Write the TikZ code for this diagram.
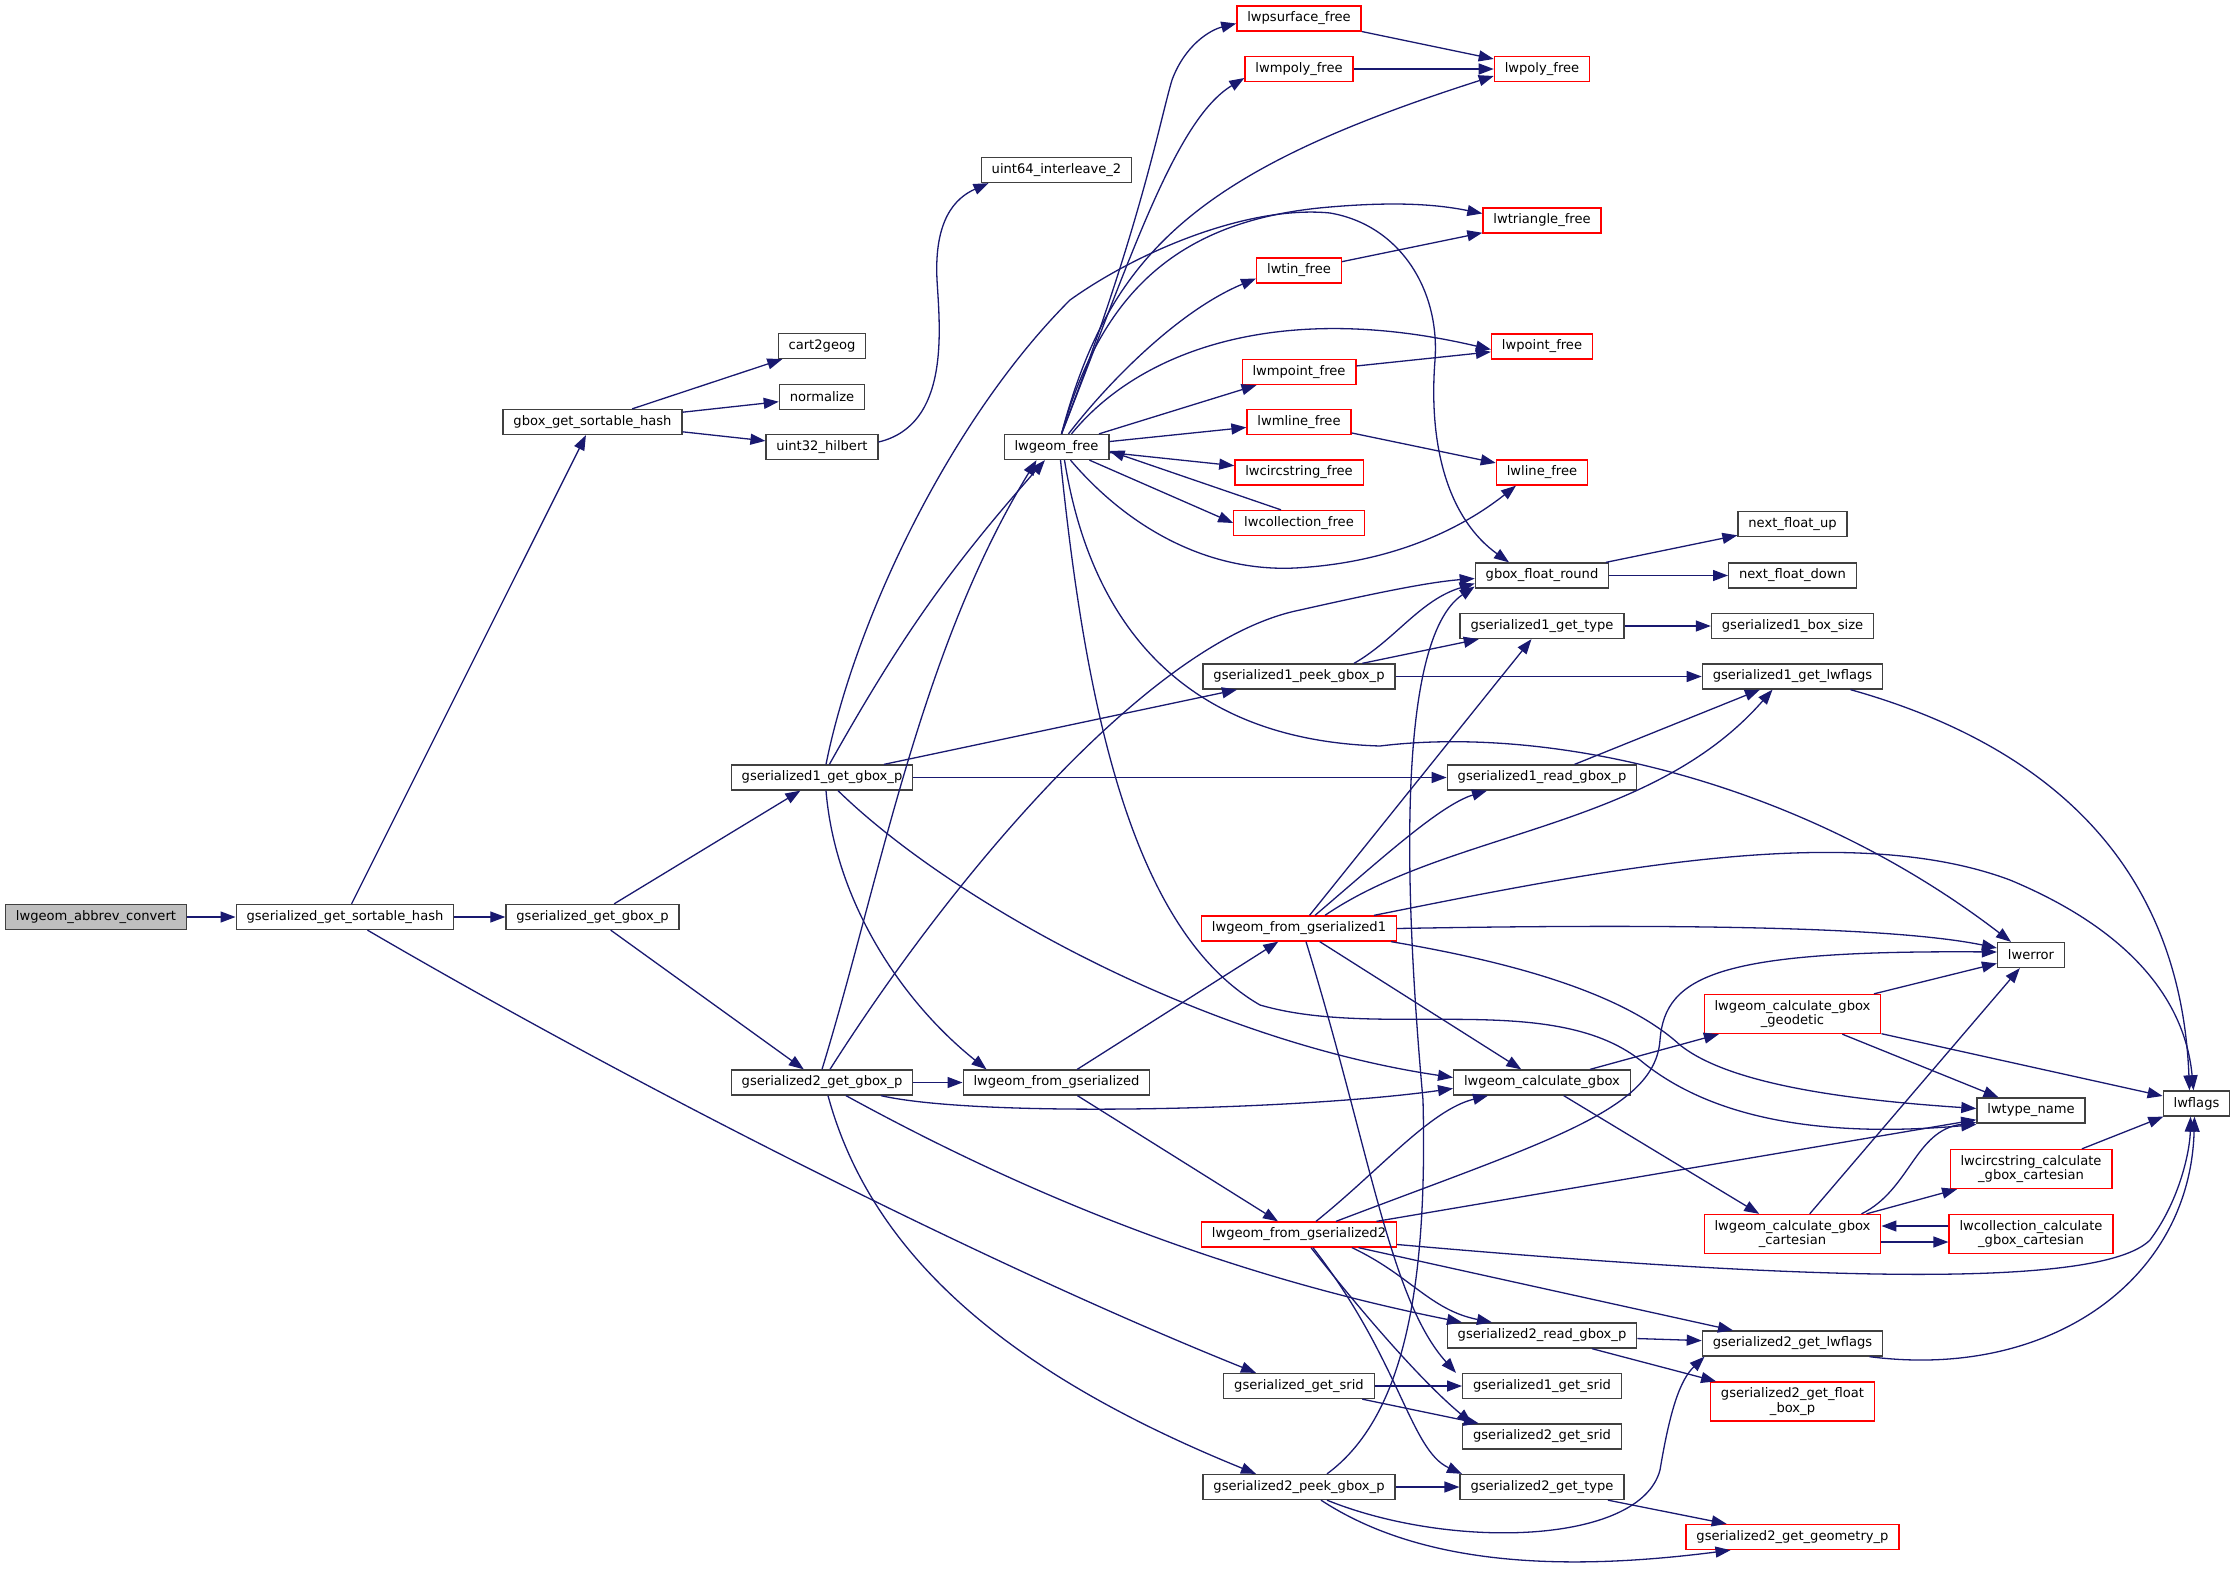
\documentclass[tikz,border=0pt]{standalone}
\usepackage{fontspec}
\setmainfont{DejaVu Sans}
\usepackage{tikz}
\usetikzlibrary{arrows.meta}
\usetikzlibrary{positioning}
\definecolor{edgeblue}{HTML}{191970}
\begin{document}
\begin{tikzpicture}[x = 1pt, y = -1pt, node distance = 50pt, on grid,
	fnbox/.style = {rectangle, draw = black!75, fill = white, line width = 1.3pt, inner xsep = 10.4pt, inner ysep = 0pt, minimum height = 25pt, align = center, font = \fontsize{13.1}{14.7}\selectfont},
	fnred/.style = {fnbox, draw = red},
	fnroot/.style = {fnbox, fill = black!25},
	twoline/.style = {minimum height = 39pt},
	callarrow/.style = {draw = edgeblue, line width = 1.3pt, -{Triangle[length = 15pt, width = 11pt]}}]
	\useasboundingbox (0,0) rectangle (2236,1574);
	\node[fnroot] (abbrev) at (96,917) {lwgeom\_abbrev\_convert};
	\node[fnbox] (sorthash) [right = 249pt of abbrev] {gserialized\_get\_sortable\_hash};
	\node[fnbox] (ggbox) [right = 247.5pt of sorthash] {gserialized\_get\_gbox\_p};
	\node[fnbox] (gboxhash) [above = 495pt of ggbox] {gbox\_get\_sortable\_hash};
	\node[fnbox] (hilbert) [right = 229.5pt of gboxhash, yshift = -25pt] {uint32\_hilbert};
	\node[fnbox] (normalize) [above = 50pt of hilbert] {normalize};
	\node[fnbox] (cart2geog) [above = 51pt of normalize] {cart2geog};
	\node[fnbox] (g1gbox) [above right = 139.5pt and 229.5pt of ggbox] {gserialized1\_get\_gbox\_p};
	\node[fnbox] (g2gbox) [below = 305pt of g1gbox] {gserialized2\_get\_gbox\_p};
	\node[fnbox] (fromser) [right = 234.5pt of g2gbox] {lwgeom\_from\_gserialized};
	\node[fnbox] (lwfree) [above = 635.5pt of fromser] {lwgeom\_free};
	\node[fnbox] (interleave) [above = 277pt of lwfree] {uint64\_interleave\_2};
	\node[fnred] (from1) [above right = 154pt and 242.5pt of fromser] {lwgeom\_from\_gserialized1};
	\node[fnred] (from2) [below = 306pt of from1] {lwgeom\_from\_gserialized2};
	\node[fnbox] (getsrid) [below = 151.5pt of from2] {gserialized\_get\_srid};
	\node[fnbox] (g2peek) [below = 101pt of getsrid] {gserialized2\_peek\_gbox\_p};
	\node[fnbox] (g1peek) [above = 252pt of from1] {gserialized1\_peek\_gbox\_p};
	\node[fnred] (collfree) [above = 153.5pt of g1peek] {lwcollection\_free};
	\node[fnred] (circfree) [above = 50.5pt of collfree] {lwcircstring\_free};
	\node[fnred] (mline) [above = 50.5pt of circfree] {lwmline\_free};
	\node[fnred] (mpoint) [above = 50pt of mline] {lwmpoint\_free};
	\node[fnred] (tin) [above = 101.5pt of mpoint] {lwtin\_free};
	\node[fnred] (mpoly) [above = 201.5pt of tin] {lwmpoly\_free};
	\node[fnred] (psurf) [above = 50.5pt of mpoly] {lwpsurface\_free};
	\node[fnred] (polyfree) [right = 243pt of mpoly] {lwpoly\_free};
	\node[fnred] (trifree) [below = 151.5pt of polyfree] {lwtriangle\_free};
	\node[fnred] (pointfree) [below = 126pt of trifree] {lwpoint\_free};
	\node[fnred] (linefree) [right = 243pt of circfree] {lwline\_free};
	\node[fnbox] (fround) [below = 103pt of linefree] {gbox\_float\_round};
	\node[fnbox] (g1type) [below = 50.5pt of fround] {gserialized1\_get\_type};
	\node[fnbox] (g1read) [below = 151.5pt of g1type] {gserialized1\_read\_gbox\_p};
	\node[fnbox] (calcgbox) [below = 305pt of g1read] {lwgeom\_calculate\_gbox};
	\node[fnbox] (g2read) [below = 253pt of calcgbox] {gserialized2\_read\_gbox\_p};
	\node[fnbox] (g1srid) [right = 243pt of getsrid] {gserialized1\_get\_srid};
	\node[fnbox] (g2srid) [below = 50.5pt of g1srid] {gserialized2\_get\_srid};
	\node[fnbox] (g2type) [right = 243pt of g2peek] {gserialized2\_get\_type};
	\node[fnbox] (fdown) [right = 250.5pt of fround] {next\_float\_down};
	\node[fnbox] (fup) [above = 51.5pt of fdown] {next\_float\_up};
	\node[fnbox] (g1boxsize) [right = 250.5pt of g1type] {gserialized1\_box\_size};
	\node[fnbox] (g1lwflags) [below = 50.5pt of g1boxsize] {gserialized1\_get\_lwflags};
	\node[fnred, twoline] (geodetic) [below = 337.5pt of g1lwflags] {lwgeom\_calculate\_gbox\\\_geodetic};
	\node[fnred, twoline] (cartesian) [below = 220pt of geodetic] {lwgeom\_calculate\_gbox\\\_cartesian};
	\node[fnbox] (g2lwflags) [below = 109.5pt of cartesian] {gserialized2\_get\_lwflags};
	\node[fnred, twoline] (floatbox) [below = 58pt of g2lwflags] {gserialized2\_get\_float\\\_box\_p};
	\node[fnred] (geomp) [right = 250.5pt of g2type, yshift = -50pt] {gserialized2\_get\_geometry\_p};
	\node[fnbox] (lwerror) [above right = 59pt and 238.5pt of geodetic] {lwerror};
	\node[fnbox] (lwtypename) [below = 155.5pt of lwerror] {lwtype\_name};
	\node[fnred, twoline] (circcalc) [below = 58.5pt of lwtypename] {lwcircstring\_calculate\\\_gbox\_cartesian};
	\node[fnred, twoline] (collcalc) [right = 238.5pt of cartesian] {lwcollection\_calculate\\\_gbox\_cartesian};
	\node[fnbox] (lwflags) [right = 165.5pt of lwtypename, yshift = 7pt] {lwflags};
	\draw[callarrow] (abbrev) -- (sorthash);
	\draw[callarrow] (sorthash) -- (ggbox);
	\draw[callarrow] (sorthash) -- (gboxhash);
	\draw[callarrow] (sorthash) .. controls (650,1095) and (1000,1270) .. ([xshift=-43pt]getsrid.north);
	\draw[callarrow] (gboxhash) -- (cart2geog);
	\draw[callarrow] (gboxhash) -- (normalize);
	\draw[callarrow] (gboxhash) -- (hilbert);
	\draw[callarrow] ([yshift=5pt]hilbert.east) .. controls (950,425) and (940,330) .. (937,280) .. controls (934,220) and (955,198) .. ([xshift=-68pt]interleave.south);
	\draw[callarrow] (ggbox) -- (g1gbox);
	\draw[callarrow] (ggbox) -- (g2gbox);
	\draw[callarrow] (g1gbox) to[bend left = 6] (lwfree);
	\draw[callarrow] ([xshift=4pt]g1gbox.north) .. controls (855,620) and (950,420) .. (1070,300) .. controls (1140,250) and (1250,205) .. (1330,213) .. controls (1400,225) and (1440,290) .. (1435,360) .. controls (1428,450) and (1450,520) .. ([xshift=-33pt]fround.north);
	\draw[callarrow] (g1gbox) -- (g1peek);
	\draw[callarrow] (g1gbox) -- (g1read);
	\draw[callarrow] ([xshift=16pt]g1gbox.south) .. controls (950,900) and (1200,1040) .. ([yshift=5pt]calcgbox.west);
	\draw[callarrow] ([xshift=4pt]g1gbox.south) .. controls (835,900) and (900,1000) .. ([xshift=-70pt]fromser.north);
	\draw[callarrow] (g2gbox.north) .. controls (880,880) and (920,650) .. ([xshift=-20pt]lwfree.south);
	\draw[callarrow] ([xshift=8pt]g2gbox.north) .. controls (950,880) and (1150,640) .. (1300,610) .. controls (1380,592) and (1430,582) .. ([yshift=-3pt]fround.west);
	\draw[callarrow] (g2gbox) -- (fromser);
	\draw[callarrow] ([xshift=59pt]g2gbox.south) .. controls (980,1118) and (1300,1110) .. ([yshift=-6pt]calcgbox.west);
	\draw[callarrow] ([xshift=24pt]g2gbox.south) .. controls (1000,1180) and (1200,1270) .. ([xshift=-80pt]g2read.north);
	\draw[callarrow] ([xshift=6pt]g2gbox.south) .. controls (870,1250) and (1000,1370) .. ([xshift=-43pt]g2peek.north);
	\draw[callarrow] (fromser) -- (from1);
	\draw[callarrow] (fromser) -- (from2);
	\draw[callarrow] ([xshift=5pt]lwfree.north) .. controls (1140,230) and (1160,120) .. (1172,80) .. controls (1185,45) and (1210,30) .. ([yshift=-5pt]psurf.west);
	\draw[callarrow] ([xshift=5pt]lwfree.north) .. controls (1130,260) and (1175,120) .. ([yshift=-9pt]mpoly.west);
	\draw[callarrow] ([xshift=5pt]lwfree.north) .. controls (1110,250) and (1200,170) .. ([yshift=-7pt]polyfree.west);
	\draw[callarrow] ([xshift=5pt]lwfree.north) .. controls (1100,300) and (1170,220) .. (1330,207) .. controls (1400,201) and (1440,205) .. ([yshift=7pt]trifree.west);
	\draw[callarrow] ([xshift=12pt]lwfree.north) .. controls (1110,380) and (1180,310) .. ([yshift=-8pt]tin.west);
	\draw[callarrow] ([xshift=15pt]lwfree.north) .. controls (1140,350) and (1280,300) .. ([yshift=-3pt]pointfree.west);
	\draw[callarrow] (lwfree) -- (mpoint);
	\draw[callarrow] (lwfree) -- (mline);
	\draw[callarrow] (lwfree) -- (circfree);
	\draw[callarrow] ([xshift=-20pt]lwfree.south east) -- (collfree.west);
	\draw[callarrow] ([xshift=-18pt]collfree.north) -- ([yshift=-4pt]lwfree.east);
	\draw[callarrow] ([xshift=14pt]lwfree.south) .. controls (1130,530) and (1210,572) .. (1295,568) .. controls (1390,563) and (1460,530) .. ([xshift=-26pt]linefree.south);
	\draw[callarrow] ([xshift=8pt]lwfree.south) .. controls (1090,620) and (1180,740) .. (1380,746) .. controls (1550,725) and (1800,780) .. ([xshift=-20pt]lwerror.north);
	\draw[callarrow] ([xshift=4pt]lwfree.south) .. controls (1085,700) and (1130,930) .. (1260,1005) .. controls (1380,1040) and (1550,990) .. (1640,1060) .. controls (1700,1110) and (1800,1140) .. ([yshift=-14pt]lwtypename.west);
	\draw[callarrow] (psurf) -- (polyfree);
	\draw[callarrow] (mpoly) -- (polyfree);
	\draw[callarrow] (tin) -- (trifree);
	\draw[callarrow] (mpoint) -- (pointfree);
	\draw[callarrow] (mline) -- (linefree);
	\draw[callarrow] (fround) -- (fup);
	\draw[callarrow] (fround) -- (fdown);
	\draw[callarrow] (g1type) -- (g1boxsize);
	\draw[callarrow] (g1read) -- (g1lwflags);
	\draw[callarrow] ([xshift=58pt]g1lwflags.south) .. controls (2030,740) and (2180,850) .. ([xshift=-7pt]lwflags.north);
	\draw[callarrow] ([xshift=55pt]g1peek.north) .. controls (1395,640) and (1420,600) .. ([yshift=-8pt]fround.west);
	\draw[callarrow] (g1peek) -- (g1type);
	\draw[callarrow] (g1peek) -- (g1lwflags);
	\draw[callarrow] (from1) -- (g1type);
	\draw[callarrow] ([xshift=16pt]from1.north) .. controls (1380,860) and (1440,805) .. ([xshift=-55pt]g1read.south);
	\draw[callarrow] ([xshift=26pt]from1.north) .. controls (1450,830) and (1650,830) .. ([xshift=-20pt]g1lwflags.south);
	\draw[callarrow] ([xshift=75pt]from1.north) .. controls (1600,870) and (1850,820) .. (2010,880) .. controls (2130,930) and (2185,1000) .. ([xshift=-3pt]lwflags.north);
	\draw[callarrow] (from1.east) .. controls (1700,923) and (1900,928) .. ([yshift=7pt]lwerror.west);
	\draw[callarrow] ([xshift=92pt]from1.south) .. controls (1500,960) and (1620,990) .. (1680,1045) .. controls (1730,1085) and (1850,1100) .. ([yshift=2pt]lwtypename.west);
	\draw[callarrow] (from1) -- (calcgbox);
	\draw[callarrow] ([xshift=7pt]from1.south) .. controls (1370,1150) and (1390,1300) .. ([xshift=-86pt]g1srid.north);
	\draw[callarrow] ([xshift=17pt]from2.north) .. controls (1380,1170) and (1430,1110) .. ([xshift=-54pt]calcgbox.south);
	\draw[callarrow] ([xshift=37pt]from2.north) .. controls (1550,1140) and (1655,1110) .. (1660,1040) .. controls (1665,975) and (1720,950) .. ([yshift=3pt]lwerror.west);
	\draw[callarrow] (from2) -- (lwtypename);
	\draw[callarrow] ([yshift=-10pt]from2.east) .. controls (1800,1280) and (2100,1290) .. (2150,1240) .. controls (2180,1200) and (2190,1150) .. ([xshift=-6pt]lwflags.south);
	\draw[callarrow] ([xshift=53pt]from2.south) .. controls (1410,1275) and (1430,1310) .. ([xshift=-50pt]g2read.north);
	\draw[callarrow] (from2) -- (g2lwflags);
	\draw[callarrow] ([xshift=12pt]from2.south) .. controls (1360,1310) and (1420,1380) .. ([xshift=-70pt]g2srid.north);
	\draw[callarrow] ([xshift=14pt]from2.south) .. controls (1400,1360) and (1410,1450) .. ([xshift=-80pt]g2type.north);
	\draw[callarrow] (getsrid) -- (g1srid);
	\draw[callarrow] (getsrid) -- (g2srid);
	\draw[callarrow] (g2peek) -- (g2type);
	\draw[callarrow] ([xshift=28pt]g2peek.north) .. controls (1400,1420) and (1428,1300) .. (1423,1100) .. controls (1405,900) and (1395,640) .. ([yshift=-11pt]fround.west);
	\draw[callarrow] ([xshift=28pt]g2peek.south) .. controls (1450,1550) and (1640,1545) .. (1660,1470) .. controls (1670,1410) and (1680,1380) .. ([xshift=-88pt]g2lwflags.south);
	\draw[callarrow] ([xshift=22pt]g2peek.south) .. controls (1420,1565) and (1560,1572) .. ([xshift=-62pt]geomp.south);
	\draw[callarrow] (g2read) -- (g2lwflags);
	\draw[callarrow] (g2read) -- (floatbox);
	\draw[callarrow] (g2type) -- (geomp);
	\draw[callarrow] ([xshift=77pt]g2lwflags.south) .. controls (2050,1380) and (2190,1280) .. ([xshift=-2pt]lwflags.south);
	\draw[callarrow] (calcgbox) -- (geodetic);
	\draw[callarrow] (calcgbox) -- (cartesian);
	\draw[callarrow] (geodetic) -- (lwerror);
	\draw[callarrow] (geodetic) -- (lwtypename);
	\draw[callarrow] (geodetic) -- (lwflags);
	\draw[callarrow] (cartesian) -- (lwerror);
	\draw[callarrow] ([xshift=69pt]cartesian.north) .. controls (1910,1190) and (1915,1130) .. ([yshift=-12pt]lwtypename.west);
	\draw[callarrow] (cartesian) -- (circcalc);
	\draw[callarrow] ([yshift=-8pt]cartesian.east) -- ([yshift=-8pt]collcalc.west);
	\draw[callarrow] ([yshift=8pt]collcalc.west) -- ([yshift=8pt]cartesian.east);
	\draw[callarrow] (circcalc) -- (lwflags);
\end{tikzpicture}
\end{document}
